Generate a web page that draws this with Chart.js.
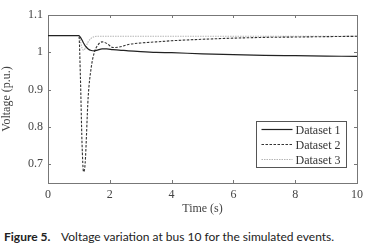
<!DOCTYPE html>
<html lang="en">
  <head>
    <meta charset="UTF-8" />
    <title>Voltage variation at bus 10</title>
    <style>
      body {
        margin: 0;
        background: #fff;
        width: 368px;
        height: 250px;
        overflow: hidden;
      }
      .chart-container {
        position: relative;
        width: 368px;
        height: 216px;
      }
      .caption {
        position: absolute;
        left: 4px;
        top: 229px;
        font-family: Lato, "Open Sans", sans-serif;
        font-size: 12px;
        color: #222;
        white-space: nowrap;
      }
      .caption b {
        margin-right: 8px;
      }
    </style>
    <script src="https://cdn.jsdelivr.net/npm/chart.js@4.4.1/dist/chart.umd.min.js"></script>
  </head>
  <body>
    <div class="chart-container">
      <canvas id="voltageChart"></canvas>
    </div>
    <div class="caption"><b>Figure 5.</b> Voltage variation at bus 10 for the simulated events.</div>

    <script>
      // time samples (s)
      const tiempo = [0, 1, 1.05, 1.1, 1.15, 1.2, 1.3, 1.4, 1.5, 1.6, 1.75, 1.9, 2.1, 2.3, 2.6, 3, 3.5, 4, 5, 6, 7, 8, 9, 10];
      // voltage (p.u.) for each dataset
      const dataset1 = [1.045, 1.045, 1.04, 1.033, 1.025, 1.018, 1.009, 1.005, 1.004, 1.006, 1.009, 1.009, 1.007, 1.006, 1.004, 1.002, 1.0, 0.999, 0.996, 0.994, 0.992, 0.991, 0.99, 0.989];
      const dataset2 = [1.045, 1.045, 0.93, 0.76, 0.68, 0.7, 0.88, 0.96, 1.0, 1.018, 1.028, 1.024, 1.013, 1.014, 1.021, 1.025, 1.028, 1.031, 1.035, 1.038, 1.04, 1.041, 1.042, 1.043];
      const dataset3 = [1.045, 1.045, 1.03, 1.012, 1.006, 1.01, 1.028, 1.038, 1.042, 1.043, 1.043, 1.043, 1.043, 1.043, 1.043, 1.043, 1.043, 1.043, 1.043, 1.043, 1.043, 1.043, 1.043, 1.043];
      const nombres = ["Dataset 1", "Dataset 2", "Dataset 3"];
      const xTicks = [0, 2, 4, 6, 8, 10];
      const yTicks = [0.7, 0.8, 0.9, 1, 1.1];

      const serif = "'Liberation Serif', 'Times New Roman', serif";

      function puntos(vals) {
        return tiempo.map((t, i) => ({ x: t, y: vals[i] }));
      }

      // inward ticks + legend box inside the plot, MATLAB style
      const matlabPlugin = {
        id: "matlabPlugin",
        afterDraw(chart) {
          const { ctx, chartArea: a, scales } = chart;
          ctx.save();
          ctx.strokeStyle = "#777";
          ctx.lineWidth = 1;
          ctx.beginPath();
          xTicks.forEach((v) => {
            const px = Math.round(scales.x.getPixelForValue(v)) + 0.5;
            ctx.moveTo(px, a.bottom);
            ctx.lineTo(px, a.bottom - 3);
            ctx.moveTo(px, a.top);
            ctx.lineTo(px, a.top + 3);
          });
          yTicks.forEach((v) => {
            const py = Math.round(scales.y.getPixelForValue(v)) + 0.5;
            ctx.moveTo(a.left, py);
            ctx.lineTo(a.left + 3, py);
            ctx.moveTo(a.right, py);
            ctx.lineTo(a.right - 3, py);
          });
          ctx.stroke();

          // legend
          const bx = a.right - 100.5, by = a.bottom - 61.5, bw = 90, bh = 46;
          ctx.fillStyle = "#fff";
          ctx.fillRect(bx, by, bw, bh);
          ctx.strokeStyle = "#555";
          ctx.strokeRect(bx, by, bw, bh);
          ctx.font = "12px " + serif;
          ctx.textBaseline = "middle";
          chart.data.datasets.forEach((ds, i) => {
            const y = by + 8 + i * 15;
            ctx.strokeStyle = ds.borderColor;
            ctx.lineWidth = ds.borderWidth;
            ctx.setLineDash(ds.borderDash || []);
            ctx.beginPath();
            ctx.moveTo(bx + 5, y);
            ctx.lineTo(bx + 36, y);
            ctx.stroke();
            ctx.setLineDash([]);
            ctx.fillStyle = "#333";
            ctx.fillText(ds.label, bx + 39, y + 1);
          });
          ctx.restore();
        },
      };

      const ctx = document.getElementById("voltageChart").getContext("2d");
      new Chart(ctx, {
        type: "line",
        data: {
          datasets: [
            { label: nombres[0], data: puntos(dataset1), borderColor: "#222", borderWidth: 1.2 },
            { label: nombres[1], data: puntos(dataset2), borderColor: "#333", borderWidth: 1.1, borderDash: [2.5, 1.5] },
            { label: nombres[2], data: puntos(dataset3), borderColor: "#b5b5b5", borderWidth: 1.1, borderDash: [1.5, 1] },
          ],
        },
        options: {
          responsive: true,
          maintainAspectRatio: false,
          animation: false,
          elements: {
            point: { radius: 0 },
            line: { cubicInterpolationMode: "monotone", fill: false },
          },
          layout: { padding: { top: 15, right: 10, left: 0, bottom: 0 } },
          plugins: { legend: { display: false }, tooltip: { enabled: false } },
          scales: {
            x: {
              type: "linear",
              min: 0,
              max: 10,
              afterBuildTicks: (s) => { s.ticks = xTicks.map((v) => ({ value: v })); },
              afterFit: (s) => { s.height = 33; },
              grid: { drawOnChartArea: false, drawTicks: false, color: "#777" },
              border: { color: "#777" },
              ticks: { padding: 5, color: "#444", font: { family: serif, size: 12 }, callback: (v) => String(v) },
              title: { display: true, text: "Time (s)", color: "#444", padding: { top: 0, bottom: 0 }, font: { family: serif, size: 12 } },
            },
            y: {
              min: 0.65,
              max: 1.1,
              afterBuildTicks: (s) => { s.ticks = yTicks.map((v) => ({ value: v })); },
              afterFit: (s) => { s.width = 48; },
              grid: { drawOnChartArea: false, drawTicks: false, color: "#777" },
              border: { color: "#777" },
              ticks: { padding: 5, color: "#444", font: { family: serif, size: 12 }, callback: (v) => String(v) },
              title: { display: true, text: "Voltage (p.u.)", color: "#444", padding: { top: 0, bottom: 2 }, font: { family: serif, size: 12 } },
            },
            x2: {
              type: "linear", position: "top", min: 0, max: 10,
              grid: { display: false, drawTicks: false }, border: { color: "#777" },
              ticks: { display: false }, afterFit: (s) => { s.height = 0; },
            },
            y2: {
              position: "right", min: 0.65, max: 1.1,
              grid: { display: false, drawTicks: false }, border: { color: "#777" },
              ticks: { display: false }, afterFit: (s) => { s.width = 0; },
            },
          },
        },
        plugins: [matlabPlugin],
      });
    </script>
  </body>
</html>
